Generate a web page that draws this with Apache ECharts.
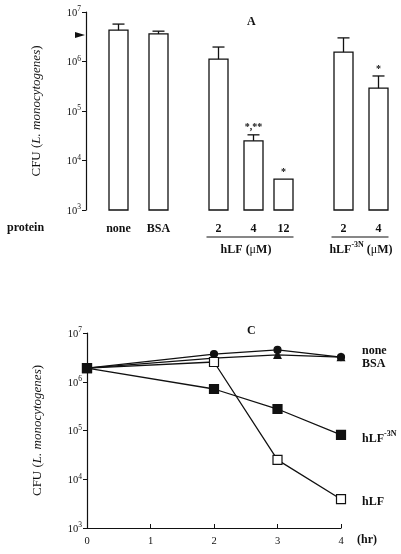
<!DOCTYPE html>
<html><head><meta charset="utf-8">
<script src="https://cdn.jsdelivr.net/npm/echarts@6/dist/echarts.min.js"></script>
<style>html,body{margin:0;padding:0;background:#fff}#c{width:401px;height:554px}</style>
</head><body><div id="c"></div>
<script>
// ---------- Panel A data ----------
const barLabels = ['none', 'BSA', '2', '4', '12', '2', '4'];
const barValues = [4.3e6, 3.6e6, 1.12e6, 2.5e4, 4.2e3, 1.55e6, 2.9e5];
const barErrTop = [5.7e6, 4.1e6, 1.96e6, 3.3e4, 4.2e3, 3.0e6, 5.1e5];
const barSig = ['', '', '', '*,**', '*', '', '*'];
const inoculum = 3.45e6;
const groupNames = ['hLF', 'hLF-3N'];
const groupFirstBar = [2, 5];
const groupLastBar = [4, 6];
// ---------- Panel C data ----------
const timeHours = [0, 2, 3, 4];
const cfuNone = [1.9e6, 3.7e6, 4.5e6, 3.2e6];
const cfuBSA = [1.9e6, 3.05e6, 3.55e6, 3.2e6];
const cfuHLF3N = [1.9e6, 7.1e5, 2.76e5, 8.1e4];
const cfuHLF = [1.9e6, 2.54e6, 2.5e4, 3.9e3];

// ---------- layout (not data) ----------
const nSlots = 62;
const slotIndex = [6, 14, 26, 33, 39, 51, 58];
const FONT = '"Liberation Serif", "DejaVu Serif", serif';
const INK = '#111';

const slotCats = [];
for (let i = 0; i < nSlots; i++) slotCats.push('');
slotIndex.forEach((s, i) => { slotCats[s] = barLabels[i]; });

const supRich = {
  b: { fontFamily: FONT, fontSize: 10.5, color: INK, lineHeight: 13, verticalAlign: 'bottom' },
  s: { fontFamily: FONT, fontSize: 7.5, color: INK, lineHeight: 9, verticalAlign: 'top' }
};
function powLabel(v) {
  return '{b|10}{s|' + Math.round(Math.log10(v)) + '}';
}
const yNameRich = {
  n: { fontFamily: FONT, fontSize: 13, color: INK },
  i: { fontFamily: FONT, fontSize: 13, color: INK, fontStyle: 'italic' }
};
const yName = '{n|CFU (}{i|L. monocytogenes}{n|)}';

const chart = echarts.init(document.getElementById('c'), null, { renderer: 'canvas' });

function lineSeries(name, data, symbol, size, fill, dy, z) {
  return {
    type: 'line', name: name, xAxisIndex: 1, yAxisIndex: 1,
    data: timeHours.map((t, i) => [t, data[i]]),
    symbol: symbol, symbolSize: size, showAllSymbol: true,
    lineStyle: { color: INK, width: 1.3 },
    itemStyle: { color: fill, borderColor: INK, borderWidth: 1.2 },
    endLabel: {
      show: true, offset: [13, dy],
      formatter: name === 'hLF-3N' ? '{m|hLF}{s|-3N}' : name,
      fontFamily: FONT, fontWeight: 'bold', fontSize: 12, color: INK,
      rich: {
        m: { fontFamily: FONT, fontWeight: 'bold', fontSize: 12, color: INK, lineHeight: 15, verticalAlign: 'bottom' },
        s: { fontFamily: FONT, fontWeight: 'bold', fontSize: 8, color: INK, lineHeight: 9, verticalAlign: 'top' }
      }
    },
    z: z
  };
}

const option = {
  animation: false,
  backgroundColor: '#fff',
  grid: [
    { left: 86, top: 12, width: 310, height: 198 },
    { left: 87, top: 333, width: 254, height: 195 }
  ],
  xAxis: [
    {
      type: 'category', gridIndex: 0, data: slotCats, boundaryGap: true,
      axisLine: { show: false }, axisTick: { show: false },
      axisLabel: { interval: 0, margin: 13, fontFamily: FONT, fontWeight: 'bold', fontSize: 12, color: INK }
    },
    {
      type: 'value', gridIndex: 1, min: 0, max: 4, interval: 1,
      axisLine: { lineStyle: { color: INK, width: 1.2 } },
      axisTick: { inside: true, length: 4, lineStyle: { color: INK } },
      splitLine: { show: false },
      axisLabel: { margin: 8, fontFamily: FONT, fontSize: 10.5, color: INK },
      name: '(hr)', nameLocation: 'end', nameGap: 16,
      nameTextStyle: { fontFamily: FONT, fontWeight: 'bold', fontSize: 12, color: INK, verticalAlign: 'top', padding: [6, 0, 0, 0] }
    }
  ],
  yAxis: [0, 1].map(g => ({
    type: 'log', logBase: 10, gridIndex: g, min: 1e3, max: 1e7,
    axisLine: { show: true, lineStyle: { color: INK, width: 1.2 } },
    axisTick: { show: true, inside: false, length: 4, lineStyle: { color: INK } },
    minorTick: { show: false },
    splitLine: { show: false },
    axisLabel: { margin: 5, formatter: powLabel, rich: supRich },
    name: yName, nameLocation: 'middle', nameGap: 43,
    nameTextStyle: { rich: yNameRich }
  })),
  series: [
    {
      type: 'custom', name: 'bars', xAxisIndex: 0, yAxisIndex: 0, clip: false,
      data: barValues.map((v, i) => [slotIndex[i], v]),
      renderItem: function (params, api) {
        const top = api.coord([api.value(0), api.value(1)]);
        const base = api.coord([api.value(0), 1e3]);
        const w = 19;
        return {
          type: 'rect',
          shape: { x: top[0] - w / 2, y: top[1], width: w, height: base[1] - top[1] },
          style: { fill: '#fff', stroke: INK, lineWidth: 1.3 }
        };
      }
    },
    {
      type: 'custom', name: 'errors', xAxisIndex: 0, yAxisIndex: 0, clip: false,
      data: barValues.map((v, i) => [slotIndex[i], v, barErrTop[i], i]),
      renderItem: function (params, api) {
        const i = api.value(3);
        const p0 = api.coord([api.value(0), api.value(1)]);
        const p1 = api.coord([api.value(0), api.value(2)]);
        const cw = 12;
        const children = [];
        if (p0[1] - p1[1] > 0.5) {
          children.push({ type: 'line', shape: { x1: p0[0], y1: p0[1], x2: p1[0], y2: p1[1] }, style: { stroke: INK, lineWidth: 1.3 } });
          children.push({ type: 'line', shape: { x1: p1[0] - cw / 2, y1: p1[1], x2: p1[0] + cw / 2, y2: p1[1] }, style: { stroke: INK, lineWidth: 1.3 } });
        }
        if (barSig[i]) {
          children.push({ type: 'text', x: p1[0], y: p1[1] - 2,
            style: { text: barSig[i], fill: INK, font: 'bold 10px ' + FONT, align: 'center', verticalAlign: 'bottom' } });
        }
        return { type: 'group', children: children };
      }
    },
    {
      type: 'custom', name: 'inoculum', xAxisIndex: 0, yAxisIndex: 0, clip: false,
      data: [[0, inoculum]],
      renderItem: function (params, api) {
        const p = api.coord([0, api.value(1)]);
        const x0 = params.coordSys.x;
        return { type: 'polygon',
          shape: { points: [[x0 - 11, p[1] - 3], [x0 - 1, p[1]], [x0 - 11, p[1] + 3]] },
          style: { fill: INK } };
      }
    },
    {
      type: 'custom', name: 'groups', xAxisIndex: 0, yAxisIndex: 0, clip: false,
      data: groupNames.map((n, g) => [slotIndex[groupFirstBar[g]], slotIndex[groupLastBar[g]], g]),
      renderItem: function (params, api) {
        const g = api.value(2);
        const a = api.coord([api.value(0), 1e3]);
        const b = api.coord([api.value(1), 1e3]);
        const y = a[1] + 27;
        const xl = a[0] - 12, xr = b[0] + 10;
        const txt = g === 0 ? '{m|hLF (}{u|μ}{m|M)}' : '{m|hLF}{s|-3N}{m| (}{u|μ}{m|M)}';
        return { type: 'group', children: [
          { type: 'line', shape: { x1: xl, y1: y, x2: xr, y2: y }, style: { stroke: INK, lineWidth: 1.2 } },
          { type: 'text', x: (xl + xr) / 2 - (g === 0 ? 4 : -1), y: y + 11,
            style: { text: txt, align: 'center', verticalAlign: 'middle',
              rich: {
                m: { fontFamily: FONT, fontWeight: 'bold', fontSize: 12, fill: INK, lineHeight: 15, verticalAlign: 'bottom' },
                u: { fontFamily: FONT, fontSize: 12, fill: INK, lineHeight: 15, verticalAlign: 'bottom' },
                s: { fontFamily: FONT, fontWeight: 'bold', fontSize: 8, fill: INK, lineHeight: 9, verticalAlign: 'top' }
              } } }
        ] };
      }
    },
    lineSeries('none', cfuNone, 'circle', 7, INK, -6, 4),
    lineSeries('BSA', cfuBSA, 'triangle', 7, INK, 7, 4),
    lineSeries('hLF', cfuHLF, 'rect', 9, '#fff', 3, 5),
    lineSeries('hLF-3N', cfuHLF3N, 'rect', 9, INK, 2, 6)
  ],
  graphic: [
    { type: 'text', left: 7, top: 222, style: { text: 'protein', font: 'bold 12px ' + FONT, fill: INK } },
    { type: 'text', left: 247, top: 16, style: { text: 'A', font: 'bold 12px ' + FONT, fill: INK } },
    { type: 'text', left: 247, top: 325, style: { text: 'C', font: 'bold 12px ' + FONT, fill: INK } }
  ]
};
chart.setOption(option);
</script>
</body></html>
